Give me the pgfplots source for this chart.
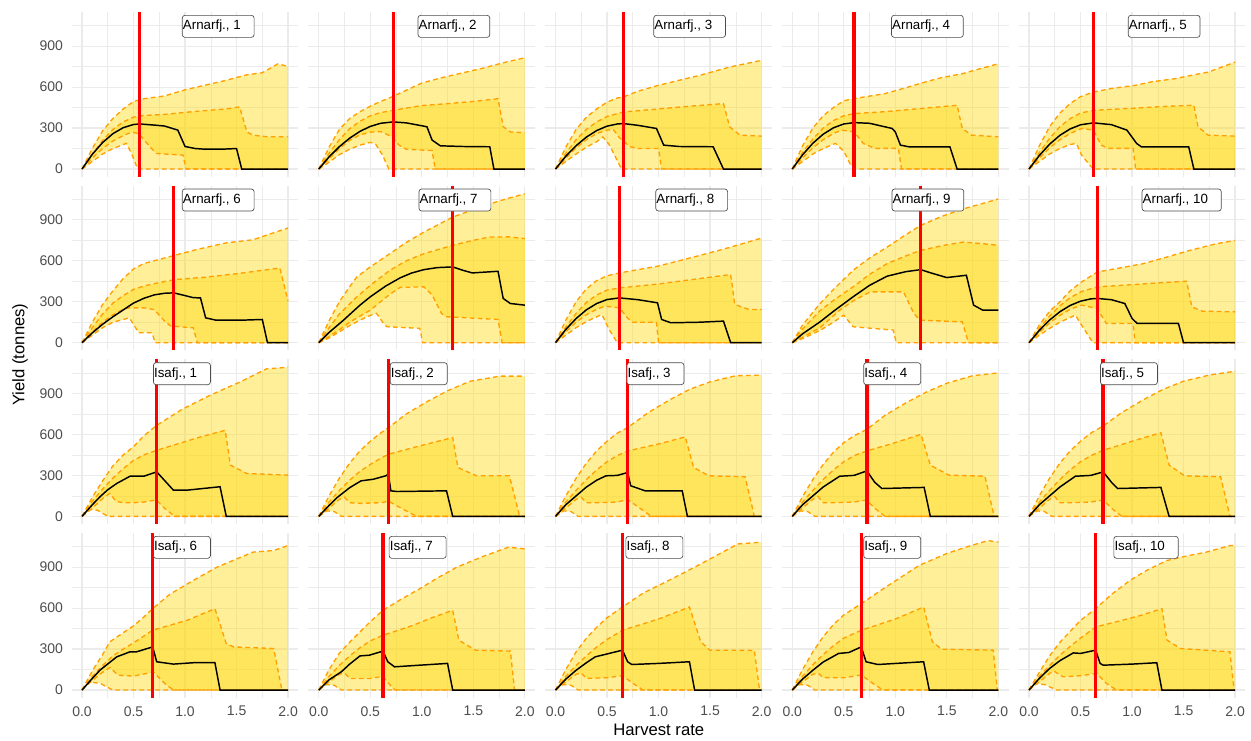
\documentclass[border=0pt]{standalone}
\usepackage{fontspec}
\setmainfont{Liberation Sans}
\usepackage{pgfplots}
\pgfplotsset{compat=1.18}
\usepgfplotslibrary{fillbetween}

\definecolor{bandgold}{RGB}{255,215,0}
\definecolor{bounds}{RGB}{255,160,0}
\definecolor{gridgrey}{RGB}{235,235,235}
\definecolor{ticktext}{RGB}{77,77,77}

\pgfplotsset{
  panel/.style={
    scale only axis, width=170pt, height=123.4pt, anchor=north west,
    xmin=-0.1, xmax=2.1, ymin=-55, ymax=1150,
    xtick={0,0.5,1,1.5,2}, ytick={0,300,600,900},
    minor xtick={0.25,0.75,1.25,1.75}, minor ytick={150,450,750,1050},
    xticklabels={}, yticklabels={},
    grid=both,
    major grid style={gridgrey, line width=0.9pt},
    minor grid style={gridgrey, line width=0.45pt},
    axis line style={draw=none},
    major tick length=0pt, minor tick length=0pt,
    tick label style={font=\fontsize{10.5}{12}\selectfont, text=ticktext},
    xticklabel style={yshift=-3pt},
    yticklabel style={xshift=-3pt},
  },
  xnums/.style={xticklabels={0.0,0.5,1.0,1.5,2.0}},
  ynums/.style={yticklabels={0,300,600,900}},
  bnd/.style={bounds, line width=1.0pt, dash pattern=on 3.5pt off 2.5pt},
}
\tikzset{
  tag/.style={draw=black!70, line width=0.5pt, rounded corners=2pt, fill=white,
    anchor=west, inner xsep=0.5pt, inner ysep=0pt, minimum height=16.5pt,
    font=\fontsize{10}{12}\selectfont},
}

% #1 upper 95%, #2 upper 50%, #3 median, #4 lower 50%, #5 lower 95%,
% #6 reference harvest rate, #7 panel title, #8 title position
\newcommand{\bands}[8]{%
  \addplot[draw=none, name path=hiA] coordinates {#1};
  \addplot[draw=none, name path=loA] coordinates {#5};
  \addplot[draw=none, name path=hiB] coordinates {#2};
  \addplot[draw=none, name path=loB] coordinates {#4};
  \addplot[fill=bandgold, fill opacity=0.4, draw=none] fill between[of=hiA and loA];
  \addplot[fill=bandgold, fill opacity=0.4, draw=none] fill between[of=hiB and loB];
  \addplot[bnd] coordinates {#1};
  \addplot[bnd] coordinates {#5};
  \addplot[bnd] coordinates {#2};
  \addplot[bnd] coordinates {#4};
  \addplot[black, line width=1.1pt] coordinates {#3};
  \addplot[red, line width=2.6pt] coordinates {(#6,-55) (#6,1150)};
  \node[tag] at (axis cs:#8,1045) {#7\hspace*{9.5pt}};
}

\begin{document}
\begin{tikzpicture}

% ---------------- Arnarfj. 1-5 ----------------
\begin{axis}[panel, ynums, at={(53.78pt,-9pt)}]
\bands
{(0,0)(0.1,150)(0.2,280)(0.3,370)(0.4,440)(0.5,495)(0.6,515)(0.8,535)(1.0,580)(1.2,615)(1.4,650)(1.6,690)(1.75,705)(1.9,770)(2.0,752)}
{(0,0)(0.1,110)(0.2,210)(0.3,290)(0.4,345)(0.5,380)(0.6,392)(0.8,400)(1.0,415)(1.2,428)(1.4,440)(1.53,455)(1.6,272)(1.66,248)(1.8,236)(2.0,236)}
{(0,0)(0.1,108)(0.2,194)(0.3,259)(0.4,303)(0.5,326)(0.56,330)(0.7,322)(0.8,315)(0.93,285)(1.0,165)(1.1,150)(1.2,145)(1.35,145)(1.5,150)(1.55,0)(2.0,0)}
{(0,0)(0.1,80)(0.2,150)(0.3,205)(0.4,245)(0.48,270)(0.55,260)(0.66,163)(0.72,114)(0.98,102)(1.01,0)(2.0,0)}
{(0,0)(0.1,55)(0.2,110)(0.3,150)(0.43,188)(0.48,115)(0.54,0)(2.0,0)}
{0.56}{Arnarfj., 1}{0.97}
\end{axis}

\begin{axis}[panel, at={(231.34pt,-9pt)}]
\bands
{(0,0)(0.1,160)(0.2,290)(0.3,370)(0.4,420)(0.5,460)(0.6,495)(0.7,525)(0.8,560)(1.0,630)(1.2,670)(1.4,705)(1.6,740)(1.8,780)(2.0,815)}
{(0,0)(0.1,115)(0.2,215)(0.3,295)(0.4,350)(0.5,390)(0.6,413)(0.72,430)(1.0,465)(1.27,480)(1.5,495)(1.74,515)(1.79,310)(1.86,272)(2.0,265)}
{(0,0)(0.1,89)(0.2,164)(0.3,226)(0.4,276)(0.5,312)(0.6,335)(0.72,345)(0.85,338)(1.02,314)(1.05,309)(1.1,212)(1.18,170)(1.4,165)(1.66,163)(1.7,0)(2.0,0)}
{(0,0)(0.1,75)(0.2,150)(0.3,210)(0.4,250)(0.5,270)(0.6,275)(0.7,240)(0.78,175)(0.85,145)(1.1,135)(1.13,0)(2.0,0)}
{(0,0)(0.1,50)(0.2,105)(0.3,145)(0.4,175)(0.5,195)(0.55,185)(0.62,100)(0.68,0)(2.0,0)}
{0.725}{Arnarfj., 2}{0.96}
\end{axis}

\begin{axis}[panel, at={(408.90pt,-9pt)}]
\bands
{(0,0)(0.1,160)(0.2,290)(0.3,380)(0.4,440)(0.5,490)(0.6,520)(0.66,528)(0.8,570)(1.0,613)(1.2,650)(1.4,686)(1.69,747)(2.0,796)}
{(0,0)(0.1,115)(0.2,215)(0.3,290)(0.4,345)(0.5,385)(0.66,418)(1.0,440)(1.3,460)(1.63,479)(1.69,309)(1.79,248)(2.0,241)}
{(0,0)(0.1,94)(0.2,171)(0.3,234)(0.4,282)(0.5,314)(0.6,330)(0.66,333)(0.8,320)(0.98,297)(1.05,175)(1.2,165)(1.53,163)(1.63,0)(2.0,0)}
{(0,0)(0.1,80)(0.2,155)(0.3,215)(0.4,260)(0.5,285)(0.56,290)(0.62,230)(0.72,165)(0.8,150)(1.0,150)(1.03,0)(2.0,0)}
{(0,0)(0.1,55)(0.2,110)(0.3,160)(0.4,200)(0.46,235)(0.52,180)(0.6,60)(0.64,0)(2.0,0)}
{0.66}{Arnarfj., 3}{0.95}
\end{axis}

\begin{axis}[panel, at={(586.46pt,-9pt)}]
\bands
{(0,0)(0.1,170)(0.2,300)(0.3,390)(0.4,450)(0.5,500)(0.6,516)(0.9,552)(1.1,595)(1.29,637)(1.45,670)(1.65,698)(1.8,730)(2.0,771)}
{(0,0)(0.1,120)(0.2,220)(0.3,300)(0.4,355)(0.5,390)(0.6,406)(0.9,420)(1.2,440)(1.6,467)(1.65,297)(1.74,248)(2.0,236)}
{(0,0)(0.1,104)(0.2,189)(0.3,255)(0.4,302)(0.5,330)(0.6,340)(0.75,335)(0.97,297)(1.0,272)(1.05,175)(1.13,163)(1.53,163)(1.6,0)(2.0,0)}
{(0,0)(0.1,80)(0.2,155)(0.3,215)(0.4,260)(0.48,285)(0.6,272)(0.69,187)(0.8,151)(1.03,151)(1.06,0)(2.0,0)}
{(0,0)(0.1,55)(0.2,110)(0.3,150)(0.42,188)(0.5,130)(0.56,40)(0.6,0)(2.0,0)}
{0.60}{Arnarfj., 4}{0.96}
\end{axis}

\begin{axis}[panel, at={(764.02pt,-9pt)}]
\bands
{(0,0)(0.1,170)(0.2,310)(0.3,410)(0.4,480)(0.5,530)(0.625,564)(0.8,590)(1.03,613)(1.2,640)(1.42,662)(1.6,690)(1.74,710)(2.0,783)}
{(0,0)(0.1,120)(0.2,225)(0.3,310)(0.4,370)(0.5,410)(0.625,430)(1.0,445)(1.3,458)(1.6,467)(1.64,309)(1.74,248)(2.0,241)}
{(0,0)(0.1,99)(0.2,182)(0.3,247)(0.4,294)(0.5,324)(0.625,338)(0.8,325)(0.95,285)(1.045,187)(1.09,163)(1.55,163)(1.6,0)(2.0,0)}
{(0,0)(0.1,80)(0.2,155)(0.3,215)(0.4,260)(0.51,297)(0.625,285)(0.7,175)(0.77,151)(1.01,151)(1.035,0)(2.0,0)}
{(0,0)(0.1,55)(0.2,110)(0.3,150)(0.4,180)(0.46,187)(0.51,102)(0.6,20)(0.625,0)(2.0,0)}
{0.625}{Arnarfj., 5}{0.96}
\end{axis}

% ---------------- Arnarfj. 6-10 ----------------
\begin{axis}[panel, ynums, at={(53.78pt,-139.25pt)}]
\bands
{(0,0)(0.1,150)(0.2,280)(0.3,380)(0.4,470)(0.5,540)(0.6,580)(0.75,610)(0.9,640)(1.1,680)(1.39,730)(1.66,754)(1.8,790)(2.0,840)}
{(0,0)(0.1,110)(0.2,210)(0.3,290)(0.4,345)(0.5,390)(0.6,415)(0.75,440)(0.9,462)(1.2,480)(1.5,505)(1.92,547)(2.0,304)}
{(0,0)(0.1,72)(0.2,135)(0.3,190)(0.4,240)(0.5,290)(0.6,325)(0.7,350)(0.8,362)(0.89,365)(1.0,345)(1.08,330)(1.15,328)(1.2,182)(1.3,165)(1.55,165)(1.75,170)(1.8,0)(2.0,0)}
{(0,0)(0.1,80)(0.2,150)(0.3,205)(0.4,245)(0.46,255)(0.6,255)(0.7,243)(0.8,160)(0.86,122)(1.08,109)(1.12,0)(2.0,0)}
{(0,0)(0.1,55)(0.2,110)(0.3,150)(0.46,182)(0.55,73)(0.68,73)(0.71,0)(2.0,0)}
{0.89}{Arnarfj., 6}{0.97}
\end{axis}

\begin{axis}[panel, at={(231.34pt,-139.25pt)}]
\bands
{(0,0)(0.1,160)(0.2,300)(0.3,410)(0.37,482)(0.5,555)(0.69,652)(0.85,735)(1.02,810)(1.3,920)(1.5,975)(1.66,1017)(1.85,1060)(2.0,1090)}
{(0,0)(0.1,110)(0.2,210)(0.37,336)(0.5,420)(0.69,530)(0.85,600)(1.02,652)(1.3,713)(1.5,750)(1.66,774)(1.85,775)(2.0,762)}
{(0,0)(0.1,75)(0.24,165)(0.4,275)(0.5,336)(0.65,415)(0.79,475)(0.9,510)(1.02,535)(1.15,550)(1.3,555)(1.4,530)(1.49,511)(1.74,523)(1.79,324)(1.86,287)(2.0,275)}
{(0,0)(0.1,45)(0.2,95)(0.3,150)(0.4,195)(0.5,238)(0.6,300)(0.7,360)(0.79,405)(1.02,409)(1.1,350)(1.19,214)(1.24,190)(1.74,170)(1.78,0)(2.0,0)}
{(0,0)(0.1,35)(0.2,80)(0.3,125)(0.4,165)(0.5,200)(0.56,215)(0.62,150)(0.66,117)(0.98,105)(1.01,0)(2.0,0)}
{1.30}{Arnarfj., 7}{0.97}
\end{axis}

\begin{axis}[panel, at={(408.90pt,-139.25pt)}]
\bands
{(0,0)(0.1,165)(0.2,300)(0.3,395)(0.4,455)(0.5,490)(0.62,511)(0.8,535)(0.99,560)(1.2,600)(1.43,645)(1.7,700)(2.0,766)}
{(0,0)(0.1,115)(0.2,215)(0.3,295)(0.4,350)(0.5,385)(0.62,401)(1.0,430)(1.3,460)(1.7,499)(1.74,280)(1.88,243)(2.0,243)}
{(0,0)(0.1,97)(0.2,177)(0.3,241)(0.4,287)(0.5,316)(0.62,328)(0.8,315)(0.99,292)(1.03,170)(1.12,146)(1.4,150)(1.63,158)(1.7,0)(2.0,0)}
{(0,0)(0.1,80)(0.2,150)(0.3,205)(0.4,245)(0.48,268)(0.62,255)(0.7,180)(0.75,150)(0.98,150)(1.0,0)(2.0,0)}
{(0,0)(0.1,55)(0.2,110)(0.3,155)(0.45,207)(0.52,97)(0.6,0)(2.0,0)}
{0.62}{Arnarfj., 8}{0.97}
\end{axis}

\begin{axis}[panel, at={(586.46pt,-139.25pt)}]
\bands
{(0,0)(0.1,130)(0.27,287)(0.4,390)(0.59,530)(0.75,620)(0.92,700)(1.1,790)(1.246,859)(1.45,925)(1.66,980)(1.85,1020)(2.0,1053)}
{(0,0)(0.1,100)(0.27,235)(0.4,310)(0.59,409)(0.75,500)(0.92,579)(1.1,635)(1.246,676)(1.45,710)(1.66,737)(1.85,725)(2.0,713)}
{(0,0)(0.1,65)(0.27,153)(0.4,230)(0.59,336)(0.75,420)(0.92,487)(1.1,520)(1.246,535)(1.35,510)(1.5,477)(1.69,494)(1.76,275)(1.85,238)(2.0,238)}
{(0,0)(0.1,40)(0.27,110)(0.46,238)(0.6,310)(0.755,372)(1.08,372)(1.18,214)(1.24,165)(1.65,153)(1.71,0)(2.0,0)}
{(0,0)(0.1,30)(0.27,90)(0.4,150)(0.5,202)(0.59,117)(0.98,92)(1.01,0)(2.0,0)}
{1.246}{Arnarfj., 9}{0.965}
\end{axis}

\begin{axis}[panel, at={(764.02pt,-139.25pt)}]
\bands
{(0,0)(0.1,130)(0.2,230)(0.3,300)(0.4,380)(0.51,445)(0.663,518)(0.9,550)(1.11,579)(1.35,630)(1.56,676)(1.82,725)(2.0,749)}
{(0,0)(0.1,105)(0.2,195)(0.3,270)(0.4,330)(0.51,375)(0.663,409)(1.0,425)(1.3,440)(1.53,450)(1.58,263)(1.68,231)(2.0,226)}
{(0,0)(0.1,90)(0.2,166)(0.3,227)(0.4,273)(0.5,304)(0.6,321)(0.663,324)(0.8,315)(0.93,287)(1.0,178)(1.05,141)(1.45,141)(1.5,0)(2.0,0)}
{(0,0)(0.1,75)(0.2,145)(0.3,200)(0.4,245)(0.51,275)(0.663,250)(0.72,178)(0.75,141)(1.01,141)(1.03,0)(2.0,0)}
{(0,0)(0.1,55)(0.2,105)(0.3,150)(0.45,202)(0.51,129)(0.62,0)(2.0,0)}
{0.663}{Arnarfj., 10}{1.094}
\end{axis}

% ---------------- Isafj. 1-5 ----------------
\begin{axis}[panel, ynums, at={(53.78pt,-269.5pt)}]
\bands
{(0,0)(0.1,140)(0.2,260)(0.3,370)(0.4,450)(0.5,510)(0.6,590)(0.725,667)(0.98,788)(1.24,886)(1.53,983)(1.79,1080)(2.0,1092)}
{(0,0)(0.1,110)(0.2,200)(0.3,280)(0.4,350)(0.5,410)(0.6,450)(0.725,484)(1.15,582)(1.39,630)(1.44,375)(1.6,314)(2.0,302)}
{(0,0)(0.1,85)(0.175,144)(0.25,195)(0.337,241)(0.466,294)(0.6,294)(0.725,326)(0.887,192)(1.02,192)(1.34,217)(1.4,0)(2.0,0)}
{(0,0)(0.1,60)(0.2,130)(0.27,168)(0.33,110)(0.4,100)(0.5,100)(0.6,105)(0.72,120)(0.8,60)(0.9,0)(2.0,0)}
{(0,0)(0.08,50)(0.15,45)(0.25,0)(2.0,0)}
{0.725}{Isafj., 1}{0.69}
\end{axis}

\begin{axis}[panel, at={(231.34pt,-269.5pt)}]
\bands
{(0,0)(0.1,150)(0.2,280)(0.3,390)(0.4,480)(0.5,550)(0.6,610)(0.676,650)(0.85,750)(1.06,844)(1.25,920)(1.47,990)(1.76,1027)(2.0,1027)}
{(0,0)(0.1,105)(0.2,190)(0.3,265)(0.4,330)(0.5,380)(0.6,425)(0.676,455)(1.0,520)(1.3,577)(1.35,358)(1.53,297)(1.85,297)(1.95,0)(2.0,0)}
{(0,0)(0.1,80)(0.18,139)(0.3,210)(0.41,260)(0.53,272)(0.65,297)(0.676,309)(0.7,187)(0.76,182)(1.24,187)(1.3,0)(2.0,0)}
{(0,0)(0.1,60)(0.2,125)(0.25,140)(0.3,100)(0.4,95)(0.6,100)(0.68,110)(0.8,60)(0.95,0)(2.0,0)}
{(0,0)(0.08,40)(0.15,35)(0.22,0)(2.0,0)}
{0.676}{Isafj., 2}{0.69}
\end{axis}

\begin{axis}[panel, at={(408.90pt,-269.5pt)}]
\bands
{(0,0)(0.1,150)(0.2,280)(0.3,390)(0.4,480)(0.5,550)(0.6,610)(0.7,650)(0.9,760)(1.1,850)(1.3,930)(1.5,985)(1.75,1030)(2.0,1034)}
{(0,0)(0.1,105)(0.2,190)(0.3,270)(0.4,340)(0.5,400)(0.6,445)(0.7,479)(1.0,530)(1.26,582)(1.34,358)(1.49,297)(1.84,290)(1.93,0)(2.0,0)}
{(0,0)(0.1,85)(0.2,150)(0.3,215)(0.4,265)(0.49,297)(0.6,300)(0.7,321)(0.73,224)(0.87,187)(1.23,187)(1.28,0)(2.0,0)}
{(0,0)(0.1,60)(0.2,125)(0.25,140)(0.3,100)(0.4,100)(0.6,105)(0.7,124)(0.8,70)(0.93,0)(2.0,0)}
{(0,0)(0.08,40)(0.15,35)(0.22,0)(2.0,0)}
{0.70}{Isafj., 3}{0.69}
\end{axis}

\begin{axis}[panel, at={(586.46pt,-269.5pt)}]
\bands
{(0,0)(0.1,145)(0.2,270)(0.3,380)(0.4,470)(0.5,540)(0.6,590)(0.724,637)(0.9,740)(1.1,830)(1.3,910)(1.5,975)(1.75,1030)(2.0,1051)}
{(0,0)(0.1,105)(0.2,190)(0.3,270)(0.4,340)(0.5,400)(0.6,445)(0.724,479)(1.0,540)(1.25,601)(1.34,375)(1.52,302)(1.87,294)(1.96,0)(2.0,0)}
{(0,0)(0.1,85)(0.2,150)(0.3,215)(0.46,294)(0.6,300)(0.724,333)(0.8,250)(0.87,204)(1.28,212)(1.34,0)(2.0,0)}
{(0,0)(0.1,60)(0.2,125)(0.25,145)(0.3,100)(0.4,100)(0.6,105)(0.72,120)(0.8,60)(0.9,0)(2.0,0)}
{(0,0)(0.08,40)(0.15,35)(0.22,0)(2.0,0)}
{0.724}{Isafj., 4}{0.69}
\end{axis}

\begin{axis}[panel, at={(764.02pt,-269.5pt)}]
\bands
{(0,0)(0.1,150)(0.2,280)(0.3,390)(0.4,480)(0.5,550)(0.6,610)(0.72,662)(0.9,760)(1.1,850)(1.3,930)(1.5,990)(1.75,1035)(2.0,1063)}
{(0,0)(0.1,105)(0.2,190)(0.3,270)(0.4,340)(0.5,400)(0.6,445)(0.72,484)(1.0,550)(1.28,613)(1.36,375)(1.51,297)(1.86,290)(1.95,0)(2.0,0)}
{(0,0)(0.1,85)(0.2,150)(0.3,215)(0.45,294)(0.6,300)(0.72,326)(0.8,250)(0.86,204)(1.28,212)(1.36,0)(2.0,0)}
{(0,0)(0.1,60)(0.2,125)(0.25,145)(0.3,100)(0.4,100)(0.6,105)(0.72,120)(0.8,60)(0.9,0)(2.0,0)}
{(0,0)(0.08,40)(0.15,35)(0.22,0)(2.0,0)}
{0.72}{Isafj., 5}{0.69}
\end{axis}

% ---------------- Isafj. 6-10 ----------------
\begin{axis}[panel, ynums, xnums, at={(53.78pt,-399.75pt)}]
\bands
{(0,0)(0.1,140)(0.2,260)(0.27,353)(0.4,420)(0.5,470)(0.6,535)(0.686,596)(0.85,700)(1.05,790)(1.31,900)(1.5,960)(1.66,1010)(1.86,1022)(2.0,1058)}
{(0,0)(0.1,100)(0.2,180)(0.3,250)(0.4,300)(0.5,345)(0.686,438)(1.02,511)(1.29,596)(1.4,341)(1.47,316)(1.86,304)(1.94,0)(2.0,0)}
{(0,0)(0.1,85)(0.175,146)(0.337,243)(0.466,280)(0.53,280)(0.686,316)(0.725,207)(0.887,190)(1.08,200)(1.29,200)(1.34,0)(2.0,0)}
{(0,0)(0.1,70)(0.2,130)(0.27,165)(0.35,109)(0.5,102)(0.63,122)(0.69,134)(0.82,36)(0.89,0)(2.0,0)}
{(0,0)(0.045,61)(0.175,49)(0.3,0)(2.0,0)}
{0.686}{Isafj., 6}{0.69}
\end{axis}

\begin{axis}[panel, xnums, at={(231.34pt,-399.75pt)}]
\bands
{(0,0)(0.1,150)(0.2,270)(0.3,350)(0.4,426)(0.5,500)(0.623,584)(0.8,665)(0.98,742)(1.15,820)(1.34,900)(1.6,980)(1.84,1046)(2.0,1034)}
{(0,0)(0.1,100)(0.2,180)(0.3,250)(0.4,310)(0.5,360)(0.623,401)(0.9,470)(1.1,530)(1.3,584)(1.36,365)(1.52,292)(1.86,285)(1.9,0)(2.0,0)}
{(0,0)(0.1,75)(0.22,134)(0.3,190)(0.4,250)(0.49,255)(0.623,285)(0.67,207)(0.735,170)(1.0,183)(1.25,195)(1.3,0)(2.0,0)}
{(0,0)(0.1,60)(0.2,115)(0.25,125)(0.3,85)(0.5,85)(0.62,100)(0.7,30)(0.74,0)(2.0,0)}
{(0,0)(0.07,40)(0.15,35)(0.22,0)(2.0,0)}
{0.623}{Isafj., 7}{0.68}
\end{axis}

\begin{axis}[panel, xnums, at={(408.90pt,-399.75pt)}]
\bands
{(0,0)(0.1,150)(0.2,280)(0.3,380)(0.4,460)(0.5,530)(0.65,608)(0.85,710)(1.1,803)(1.3,880)(1.5,960)(1.77,1070)(2.0,1083)}
{(0,0)(0.1,100)(0.2,180)(0.3,250)(0.4,315)(0.5,370)(0.65,438)(1.0,520)(1.3,608)(1.41,353)(1.5,292)(1.93,290)(1.98,0)(2.0,0)}
{(0,0)(0.1,80)(0.2,145)(0.3,200)(0.385,243)(0.52,268)(0.65,292)(0.7,207)(0.74,187)(1.0,195)(1.3,207)(1.35,0)(2.0,0)}
{(0,0)(0.1,60)(0.2,115)(0.25,125)(0.3,85)(0.5,90)(0.65,105)(0.75,50)(0.85,0)(2.0,0)}
{(0,0)(0.07,40)(0.15,35)(0.22,0)(2.0,0)}
{0.65}{Isafj., 8}{0.68}
\end{axis}

\begin{axis}[panel, xnums, at={(586.46pt,-399.75pt)}]
\bands
{(0,0)(0.1,150)(0.2,280)(0.3,390)(0.4,480)(0.5,550)(0.67,633)(0.9,750)(1.23,912)(1.5,1000)(1.7,1050)(1.9,1095)(2.0,1083)}
{(0,0)(0.1,100)(0.2,185)(0.3,260)(0.4,325)(0.5,380)(0.67,438)(1.0,520)(1.275,608)(1.36,353)(1.45,299)(1.95,292)(1.99,0)(2.0,0)}
{(0,0)(0.1,80)(0.2,145)(0.3,205)(0.45,268)(0.55,275)(0.67,316)(0.716,207)(0.83,187)(1.275,207)(1.33,0)(2.0,0)}
{(0,0)(0.1,60)(0.2,115)(0.25,125)(0.3,90)(0.5,90)(0.67,110)(0.78,50)(0.88,0)(2.0,0)}
{(0,0)(0.07,40)(0.15,35)(0.22,0)(2.0,0)}
{0.67}{Isafj., 9}{0.69}
\end{axis}

\begin{axis}[panel, xnums, at={(764.02pt,-399.75pt)}]
\bands
{(0,0)(0.1,130)(0.2,250)(0.3,350)(0.4,430)(0.5,510)(0.647,596)(0.8,700)(0.98,803)(1.15,880)(1.34,949)(1.55,985)(1.72,1010)(1.95,1058)(2.0,1058)}
{(0,0)(0.1,100)(0.2,180)(0.3,255)(0.4,320)(0.5,380)(0.647,462)(0.9,510)(1.1,550)(1.29,596)(1.34,365)(1.47,304)(1.95,280)(1.99,0)(2.0,0)}
{(0,0)(0.1,85)(0.2,158)(0.3,215)(0.43,272)(0.5,268)(0.647,292)(0.69,195)(0.72,182)(1.0,190)(1.24,200)(1.29,0)(2.0,0)}
{(0,0)(0.1,60)(0.2,122)(0.24,140)(0.3,110)(0.33,97)(0.5,105)(0.657,122)(0.75,49)(0.85,0)(2.0,0)}
{(0,0)(0.04,49)(0.15,40)(0.27,0)(2.0,0)}
{0.647}{Isafj., 10}{0.82}
\end{axis}

% shared axis titles
\node[rotate=90, font=\fontsize{12.5}{15}\selectfont] at (15pt,-265.9pt) {Yield (tonnes)};
\node[font=\fontsize{12.5}{15}\selectfont] at (494.1pt,-547pt) {Harvest rate};

% page frame
\pgfresetboundingbox
\path (0,0) rectangle (938.25pt,-555pt);
\end{tikzpicture}
\end{document}
